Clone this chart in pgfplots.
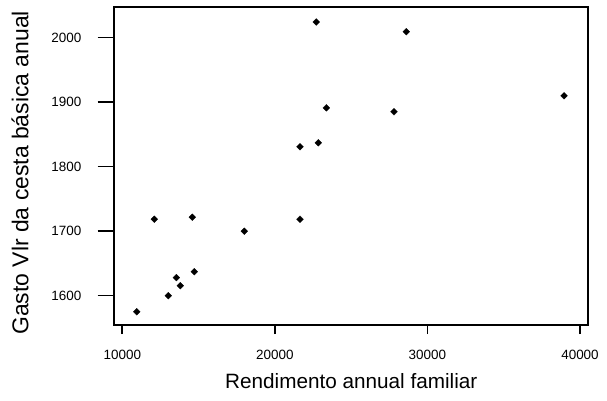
\documentclass[border=0pt]{standalone}
\usepackage{fontspec}
\setmainfont{Liberation Sans}
\usepackage{pgfplots}
\pgfplotsset{compat=1.18}
\begin{document}
\begin{tikzpicture}[x=1bp,y=1bp]
\useasboundingbox (0,0) rectangle (607,400);
\pgfplotsset{
  myframe/.style={
    at={(114.3bp,75.5bp)}, anchor=south west,
    scale only axis, width=474bp, height=317.2bp,
    xmin=9476, xmax=40544, ymin=1555.3, ymax=2047.1,
    scaled ticks=false,
    tick pos=left,
    tick align=outside,
    tick style={line width=1.6bp, black},
    axis line style={line width=2bp, black},
    every axis/.append style={line width=2bp},
    ticklabel style={font=\fontsize{13.5}{16}\selectfont},
  }
}
\begin{axis}[
  myframe,
  xtick={10000,20000,30000,40000},
  xticklabels={10000,20000,30000,40000},
  ytick=\empty,
  major tick length=9.7bp,
  xticklabel style={yshift=-11.5bp},
  xlabel={Rendimento annual familiar},
  xlabel style={font=\fontsize{20.8}{24}\selectfont, at={(axis description cs:0.5,0)}, anchor=base, yshift=-63.8bp},
  clip=false,
]
\addplot[only marks, mark=square*, mark size=2.4bp, mark options={rotate=45, fill=black, draw=black, line width=0.3bp}] coordinates {
(10944,1575)
(12097,1718.6)
(13015,1600)
(13539,1628)
(13801,1615.5)
(14588,1721.7)
(14719,1637.2)
(17996,1700)
(21647,1718.6)
(21647,1831)
(22847,1837)
(22716,2024.3)
(23371,1891.2)
(27808,1885)
(28614,2009.3)
(38951,1909.8)
};
\end{axis}
\begin{axis}[
  myframe,
  xtick=\empty,
  ytick={1600,1700,1800,1900,2000},
  yticklabels={1600,1700,1800,1900,2000},
  major tick length=16.7bp,
  yticklabel style={xshift=-12bp},
  ylabel={Gasto Vlr da cesta básica anual},
  ylabel style={font=\fontsize{23}{27}\selectfont, at={(axis description cs:-0.1814,0.478)}, anchor=base},
]
\end{axis}
\end{tikzpicture}
\end{document}
